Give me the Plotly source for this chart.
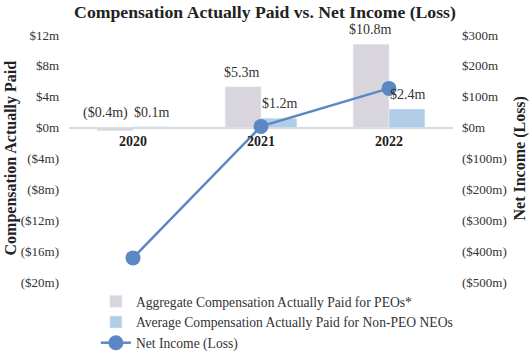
import plotly.graph_objects as go

years = ["2020", "2021", "2022"]
peo_comp = [-0.4, 5.3, 10.8]          # $m, left axis
neo_comp = [0.1, 1.2, 2.4]            # $m, left axis
net_income = [-422, 4, 127]           # $m, right axis
peo_labels = ["($0.4m)", "$5.3m", "$10.8m"]
neo_labels = ["$0.1m", "$1.2m", "$2.4m"]
left_ticks = [12, 8, 4, 0, -4, -8, -12, -16, -20]
left_ticktext = ["$12m", "$8m", "$4m", "$0m", "($4m)", "($8m)", "($12m)", "($16m)", "($20m)"]
right_ticks = [300, 200, 100, 0, -100, -200, -300, -400, -500]
right_ticktext = ["$300m", "$200m", "$100m", "$0m", "($100m)", "($200m)", "($300m)", "($400m)", "($500m)"]

GREY = "#D8D6DC"
LBLUE = "#B1CDE8"
LINE = "#5B87C5"
FONT = "Liberation Serif"
W, H = 530, 353
ML, MR, MT, MB = 69, 77, 35, 71
PW = W - ML - MR

fig = go.Figure()
fig.add_trace(go.Bar(x=years, y=peo_comp, name="Aggregate Compensation Actually Paid for PEOs*",
                     marker_color=GREY, yaxis="y"))
fig.add_trace(go.Bar(x=years, y=neo_comp, name="Average Compensation Actually Paid for Non-PEO NEOs",
                     marker_color=LBLUE, yaxis="y"))
fig.add_trace(go.Scatter(x=years, y=net_income, name="Net Income (Loss)", yaxis="y2",
                         mode="lines+markers", line=dict(color=LINE, width=2.5),
                         marker=dict(color=LINE, size=15)))

for i, y in enumerate(years):
    # category axis: numeric x = category index
    fig.add_annotation(x=i, y=max(peo_comp[i], 0), xref="x", yref="y", text=peo_labels[i],
                       xshift=-19 if peo_comp[i] >= 0 else -28, yshift=5, yanchor="bottom", showarrow=False,
                       font=dict(family=FONT, size=14, color="#333333"))
    fig.add_annotation(x=i, y=max(neo_comp[i], 0), xref="x", yref="y", text=neo_labels[i],
                       xshift=19, yshift=5, yanchor="bottom", showarrow=False,
                       font=dict(family=FONT, size=14, color="#333333"))
    fig.add_annotation(x=i, y=0, xref="x", yref="y", text="<b>" + y + "</b>",
                       yshift=-4, yanchor="top", showarrow=False,
                       font=dict(family=FONT, size=14, color="#222222"))

fig.add_annotation(x=(10 - ML) / PW, xref="paper", xanchor="center", y=0.5, yref="paper",
                   yanchor="middle", text="<b>Compensation Actually Paid</b>",
                   textangle=-90, showarrow=False, font=dict(family=FONT, size=16, color="#222222"))
fig.add_annotation(x=(519 - ML) / PW, xref="paper", xanchor="center", y=0.5, yref="paper",
                   yanchor="middle", text="<b>Net Income (Loss)</b>",
                   textangle=-90, showarrow=False, font=dict(family=FONT, size=16, color="#222222"))

fig.update_layout(
    width=W, height=H,
    margin=dict(l=ML, r=MR, t=MT, b=MB, autoexpand=False),
    paper_bgcolor="white", plot_bgcolor="white",
    font=dict(family=FONT, size=13, color="#333333"),
    title=dict(text="<b>Compensation Actually Paid vs. Net Income (Loss)</b>",
               x=0.5, xanchor="center", y=1 - 12 / H, yanchor="middle", yref="container",
               font=dict(family=FONT, size=17.7, color="#222222")),
    barmode="group", bargap=0.44, bargroupgap=0,
    showlegend=True,
    legend=dict(x=0.07, y=1 - 286 / H, yref="container", xanchor="left",
                yanchor="top", orientation="v",
                font=dict(family=FONT, size=13.6, color="#333333"), bgcolor="rgba(0,0,0,0)",
                tracegroupgap=0),
    xaxis=dict(type="category", range=[-0.5, 2.5], showline=False, ticks="", showgrid=False,
               showticklabels=False),
    yaxis=dict(range=[-20, 12], tickvals=left_ticks, ticktext=left_ticktext, showgrid=False,
               zeroline=True, zerolinecolor="#D9D9D9", zerolinewidth=1.5, showline=False,
               ticklabelstandoff=9,
               tickfont=dict(family=FONT, size=13, color="#333333")),
    yaxis2=dict(range=[-500, 300], overlaying="y", side="right", tickvals=right_ticks,
                ticktext=right_ticktext, showgrid=False, zeroline=False, showline=False,
                ticklabelstandoff=8,
                tickfont=dict(family=FONT, size=13, color="#333333")),
)
fig.write_html("out.html")
